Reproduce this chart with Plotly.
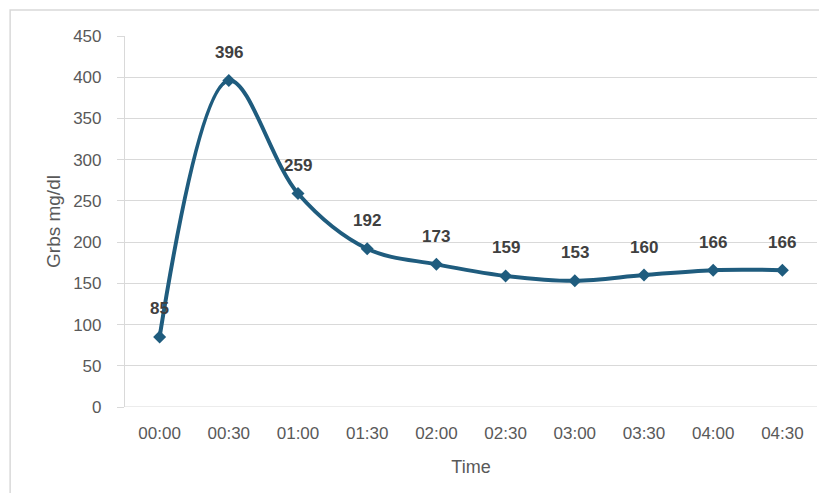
import plotly.graph_objects as go

times = ["00:00", "00:30", "01:00", "01:30", "02:00", "02:30", "03:00", "03:30", "04:00", "04:30"]
grbs = [85, 396, 259, 192, 173, 159, 153, 160, 166, 166]
y_ticks = [0, 50, 100, 150, 200, 250, 300, 350, 400, 450]

line_color = "#1F5C7E"
grid_color = "#D9D9D9"
tick_color = "#595959"
font_family = "Liberation Sans, Arial, sans-serif"

fig = go.Figure()
fig.add_trace(go.Scatter(
    x=times, y=grbs, mode="lines+markers",
    line=dict(color=line_color, width=4, shape="spline", smoothing=1.0),
    marker=dict(symbol="diamond", size=10, color=line_color),
    showlegend=False, hoverinfo="x+y",
))

for t, v in zip(times, grbs):
    fig.add_annotation(x=t, y=v, text=f"<b>{v}</b>", showarrow=False,
                       yshift=28, font=dict(size=17, color="#404040", family=font_family))

# outer chart frame
fig.add_shape(type="rect", xref="paper", yref="paper",
              x0=-0.166, x1=1.1, y0=-0.4, y1=1.070,
              line=dict(color="#D9D9D9", width=1.5), layer="below")

fig.update_layout(
    width=811, height=485,
    margin=dict(l=117, r=2, t=28, b=86),
    paper_bgcolor="white", plot_bgcolor="white",
    font=dict(family=font_family, color=tick_color, size=17),
    xaxis=dict(
        type="category", range=[-0.5, len(times) - 0.5],
        showgrid=False, showline=False, zeroline=False,
        ticks="", tickfont=dict(size=17, color=tick_color),
        ticklabelstandoff=14, automargin=False,
        title=dict(text="Time", font=dict(size=18, color=tick_color), standoff=18),
    ),
    yaxis=dict(
        range=[0, 450], tickvals=y_ticks, showgrid=True, gridcolor=grid_color, gridwidth=1.2,
        showline=True, linecolor=grid_color, linewidth=1.2, zeroline=False,
        ticks="outside", ticklen=7, tickcolor=grid_color,
        tickfont=dict(size=17, color=tick_color), ticklabelstandoff=12, automargin=False,
        title=dict(text="Grbs mg/dl", font=dict(size=19, color=tick_color), standoff=7),
    ),
)
fig.add_shape(type="line", xref="paper", yref="y", x0=0, x1=1, y0=0, y1=0,
              line=dict(color=grid_color, width=1.2), layer="below")

fig.write_html("out.html")
